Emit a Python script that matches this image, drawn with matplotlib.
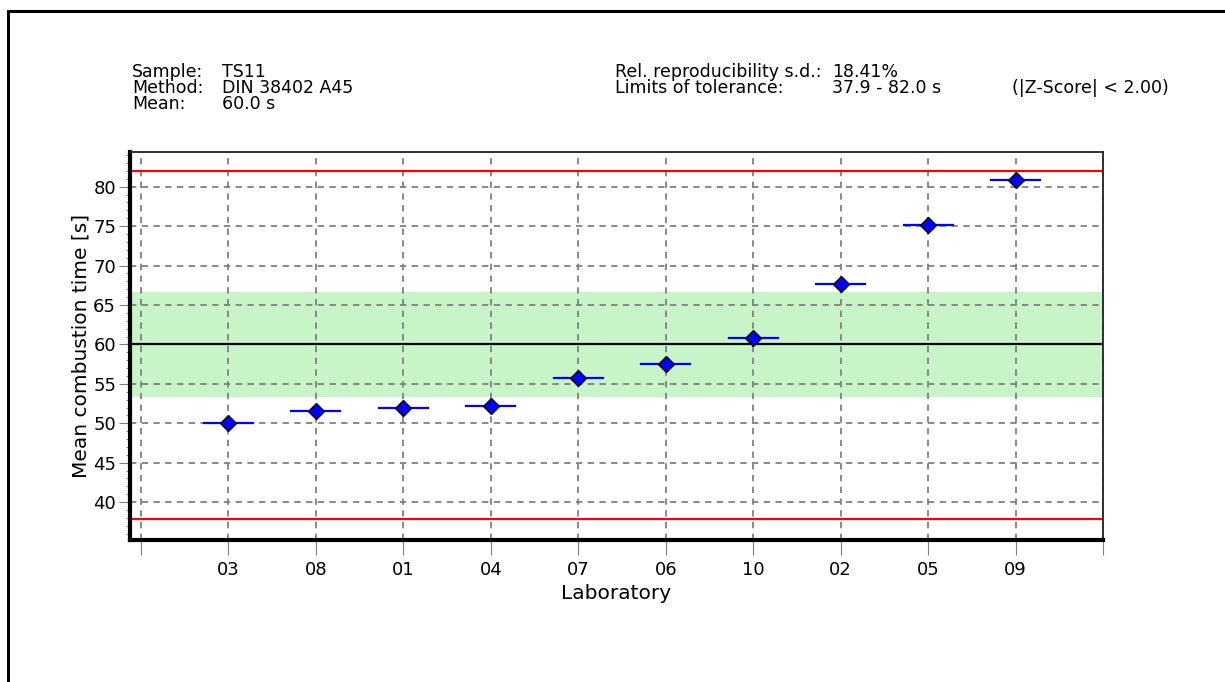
import matplotlib
matplotlib.use("Agg")
import matplotlib.pyplot as plt
from matplotlib.lines import Line2D
from matplotlib.ticker import MultipleLocator

labs = ["03", "08", "01", "04", "07", "06", "10", "02", "05", "09"]
means = [50.0, 51.5, 52.0, 52.2, 55.7, 57.5, 60.8, 67.7, 75.2, 80.9]
overall_mean = 60.0
tol_low, tol_high = 37.9, 82.0
band_low, band_high = 53.3, 66.7
half_width = 0.28

plt.rcParams['font.family'] = ['DejaVu Sans']

fig = plt.figure(figsize=(12.25, 6.82), dpi=100)
ax = fig.add_axes([130/1225, 1-540/682, (1103-130)/1225, (540-152)/682])

xpos = list(range(1, len(labs) + 1))
ax.axhspan(band_low, band_high, color='#c8f5c8', zorder=0, lw=0)
ax.set_xlim(-0.125, 10.92)
ax.set_ylim(35.2, 84.4)

ax.grid(True, color='#808080', linestyle=(0, (3.5, 3)), linewidth=1.3, zorder=1)
ax.set_axisbelow(True)

ax.axhline(tol_high, color='red', lw=1.6, zorder=2)
ax.axhline(tol_low, color='red', lw=1.6, zorder=2)
ax.axhline(overall_mean, color='black', lw=1.6, zorder=2)

for x, m in zip(xpos, means):
    ax.plot([x - half_width, x + half_width], [m, m], color='blue', lw=1.6, zorder=3)
ax.plot(xpos, means, linestyle='none', marker='D', markersize=8,
        markerfacecolor='blue', markeredgecolor='black', markeredgewidth=1.0, zorder=4)

fs = 13
ax.set_xticks(range(0, 12))
ax.set_xticklabels([""] + labs + [""], fontsize=fs)
ax.set_yticks([40, 45, 50, 55, 60, 65, 70, 75, 80])
ax.yaxis.set_minor_locator(MultipleLocator(1))
ax.tick_params(axis='y', which='major', length=8, color='#808080', labelsize=fs, pad=2)
ax.tick_params(axis='y', which='minor', length=3, color='#808080')
ax.tick_params(axis='x', which='major', length=11, color='#808080', labelsize=fs, pad=4)

for side in ['left', 'bottom']:
    ax.spines[side].set_linewidth(3)
for side in ['top', 'right']:
    ax.spines[side].set_linewidth(1.3)
    ax.spines[side].set_color('#202020')

ax.set_ylabel("Mean combustion time [s]", fontsize=14.5, labelpad=2)
ax.set_xlabel("Laboratory", fontsize=14.5, labelpad=4)

hfs = 12.5
def txt(x, y, s):
    fig.text(x/1225, 1-y/682, s, fontsize=hfs, va='center', ha='left')

txt(132, 72, "Sample:")
txt(222, 72, "TS11")
txt(132, 88, "Method:")
txt(222, 88, "DIN 38402 A45")
txt(132, 104, "Mean:")
txt(222, 104, "60.0 s")
txt(615, 72, "Rel. reproducibility s.d.:")
txt(832, 72, "18.41%")
txt(615, 88, "Limits of tolerance:")
txt(832, 88, "37.9 - 82.0 s")
txt(1012, 88, "(|Z-Score| < 2.00)")

fig.add_artist(Line2D([8/1225, 1.0], [1-10.5/682, 1-10.5/682], color='black', lw=2.2, transform=fig.transFigure))
fig.add_artist(Line2D([7.5/1225, 7.5/1225], [0, 1-10.5/682], color='black', lw=2.2, transform=fig.transFigure))

fig.savefig("out.png", dpi=100)
